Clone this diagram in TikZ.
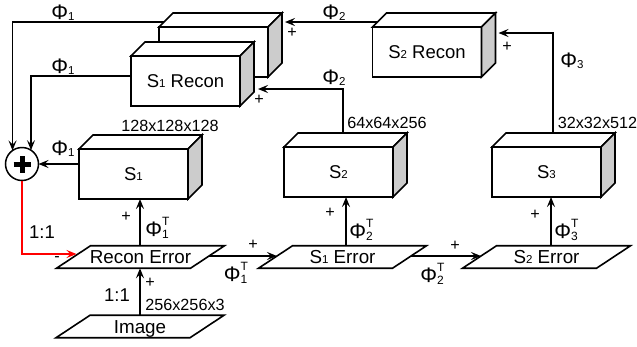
\documentclass[tikz,border=0pt]{standalone}
\usepackage{fontspec}
\setmainfont{Liberation Sans}
\usetikzlibrary{arrows.meta,calc}
\definecolor{sidegray}{RGB}{204,204,204}
\definecolor{redline}{RGB}{255,0,0}
\newcommand\lsub[1]{\raisebox{-1pt}{\fontsize{11.5}{11.5}\selectfont #1}}
\newcommand\bsub[1]{\raisebox{0pt}{\fontsize{11.5}{11.5}\selectfont #1}}
\newcommand\phit[1]{Φ\rlap{\raisebox{11pt}{\fontsize{12}{12}\selectfont T}}\raisebox{-1.5pt}{\fontsize{12}{12}\selectfont #1}}
\tikzset{
  boxline/.style={line width=1.6pt, line join=miter},
  frontface/.style={boxline, draw, fill=white, minimum width=109pt, minimum height=50pt,
    inner sep=0pt, outer sep=0pt, font=\fontsize{18.5}{20}\selectfont},
  paratext/.style={inner sep=0pt, outer sep=0pt, minimum width=100pt, minimum height=22.5pt,
    text height=13pt, text depth=0pt, font=\fontsize{18.8}{20}\selectfont},
  conn/.style={line width=1.3pt, -{Stealth[length=10pt,width=8pt,inset=4pt]}},
  redconn/.style={conn, draw=redline},
  lab/.style={inner sep=0pt, font=\fontsize{16.2}{16}\selectfont},
  biglab/.style={inner sep=0pt, font=\fontsize{18.5}{18}\selectfont},
  philab/.style={inner sep=0pt, font=\fontsize{21}{21}\selectfont},
}
\newcommand\mycube[3]{%
  \node[frontface] (#1) at (#2) {#3};
  \coordinate (#1-tl) at ([shift={(14,-14)}]#1.north west);
  \coordinate (#1-tr) at ([shift={(14,-14)}]#1.north east);
  \coordinate (#1-br) at ([shift={(14,-14)}]#1.south east);
  \draw[boxline, fill=white] (#1.north west) -- (#1-tl) -- (#1-tr) -- (#1.north east) -- cycle;
  \draw[boxline, fill=sidegray] (#1.north east) -- (#1-tr) -- (#1-br) -- (#1.south east) -- cycle;
}
\newcommand\mypara[3]{%
  \node[paratext] (#1) at (#2) {#3};
  \draw[boxline] ([shift={(-50,-11.25)}]#1.center) -- ([shift={(84,-11.25)}]#1.center)
    -- ([shift={(50,11.25)}]#1.center) -- ([shift={(-84,11.25)}]#1.center) -- cycle;
}
\begin{document}
\begin{tikzpicture}[x=1pt,y=-1pt]
\useasboundingbox (0,0) rectangle (637,346);

% boxes
\mycube{bb}{213.5,52}{}
\mycube{s1r}{185.5,81}{S\bsub{1} Recon}
\mycube{s2r}{427,52}{S\bsub{2} Recon}
\mycube{s1}{133.5,174}{S\bsub{1}}
\mycube{s2}{338.5,172}{S\bsub{2}}
\mycube{s3}{546.5,172}{S\bsub{3}}

% parallelograms
\mypara{re}{140.5,257}{Recon Error}
\mypara{se1}{342.5,257}{S\bsub{1} Error}
\mypara{se2}{546.5,257}{S\bsub{2} Error}
\mypara{img}{140,326.5}{Image}

% sum node
\node[circle, draw, line width=1.5pt, minimum size=33pt, inner sep=0pt, outer sep=0pt, fill=white] (plus) at (22,164) {};
\draw[line width=5pt] ([xshift=-8.5pt]plus.center) -- ([xshift=8.5pt]plus.center);
\draw[line width=5pt] ([yshift=-8.5pt]plus.center) -- ([yshift=8.5pt]plus.center);

% connectors
\draw[conn] ([shift={(5,-5)}]bb.north west) -| (plus.125);
\draw[conn] ([shift={(0,-5)}]s1r.west) -| (plus.57);
\draw[conn] ([shift={(0,-10)}]s1.west) -- (plus.east);
\draw[redconn] (plus.south) |- ([shift={(-64,-3)}]re.center);
\draw[conn] (img.north) -- (img.north |- re.south);
\draw[conn] ([xshift=-0.5pt]re.north) -- ([xshift=-0.5pt]re.north |- s1.south);
\draw[conn] ([xshift=3.5pt]se1.north) -- ([xshift=3.5pt]se1.north |- s2.south);
\draw[conn] ([xshift=4.5pt]se2.north) -- ([xshift=4.5pt]se2.north |- s3.south);
\draw[conn] ([shift={(68.5,-1)}]re.center) -- ([shift={(-65.5,-1)}]se1.center);
\draw[conn] ([shift={(68.5,-1)}]se1.center) -- ([shift={(-65.5,-1)}]se2.center);
\draw[conn] ([shift={(4.5,-14)}]s2.north) |- ([shift={(18,-17)}]s1r.south east);
\draw[conn] ([shift={(6.5,-14)}]s3.north) |- ([shift={(17,6)}]s2r.north east);
\draw[conn] ([shift={(5,-5)}]s2r.north west) -- ([shift={(17,-5)}]bb.north east);

% labels
\node[philab] (l1) at (63,13) {Φ\lsub{1}};
\node[philab] (l2) at (63,67) {Φ\lsub{1}};
\node[philab] (l3) at (63,149) {Φ\lsub{1}};
\node[philab] (l4) at (334,13) {Φ\lsub{2}};
\node[philab] (l5) at (334,78) {Φ\lsub{2}};
\node[philab] (l6) at (572,61) {Φ\lsub{3}};
\node[lab] (p1) at (292,33) {+};
\node[lab] (p2) at (259,100) {+};
\node[lab] (p3) at (507,47) {+};
\node[lab] (d1) at (170,126) {128x128x128};
\node[lab] (d2) at (387,122.5) {64x64x256};
\node[lab] (d3) at (597.5,122.5) {32x32x512};
\node[lab] (d4) at (185,304.5) {256x256x3};
\node[biglab] (r1) at (117,295) {1:1};
\node[biglab] (r2) at (42,232.5) {1:1};
\node[lab] (m1) at (57,259) {-};
\node[lab] (p4) at (126,217) {+};
\node[lab] (p5) at (150,283) {+};
\node[lab] (p6) at (253,245) {+};
\node[lab] (p7) at (330,213) {+};
\node[lab] (p8) at (455,246) {+};
\node[lab] (p9) at (535,215) {+};
\node[philab] (t1) at (157,228) {\phit{1}};
\node[philab] (t2) at (235.5,273) {\phit{1}};
\node[philab] (t3) at (361,230) {\phit{2}};
\node[philab] (t4) at (432,274) {\phit{2}};
\node[philab] (t5) at (566,230) {\phit{3}};
\end{tikzpicture}
\end{document}
